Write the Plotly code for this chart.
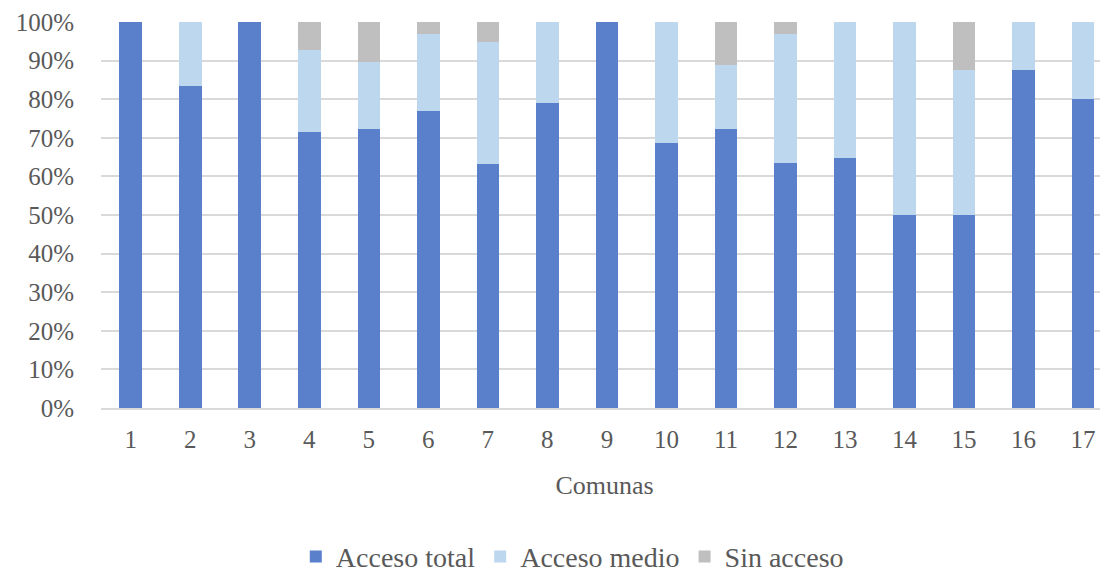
import plotly.graph_objects as go

comunas = [str(i) for i in range(1, 18)]
acceso_total = [100, 83.3, 100, 71.4, 72.4, 77.0, 63.2, 78.9, 100, 68.75, 72.2, 63.6, 64.7, 50.0, 50.0, 87.5, 80.0]
acceso_medio = [0, 16.7, 0, 21.4, 17.2, 20.0, 31.6, 21.1, 0, 31.25, 16.7, 33.3, 35.3, 50.0, 37.5, 12.5, 20.0]
sin_acceso = [0, 0, 0, 7.2, 10.4, 3.0, 5.2, 0, 0, 0, 11.1, 3.1, 0, 0, 12.5, 0, 0]

series = [
    ("Acceso total", acceso_total, "#5B80CB"),
    ("Acceso medio", acceso_medio, "#BDD7EE"),
    ("Sin acceso", sin_acceso, "#BFBFBF"),
]

fig = go.Figure()
for name, vals, col in series:
    fig.add_trace(go.Bar(x=comunas, y=vals, name=name, marker=dict(color=col, line=dict(width=0))))

font = "Liberation Serif"
fs = 25
fig.update_layout(
    barmode="stack",
    bargap=0.62,
    width=1100, height=564,
    margin=dict(l=93, r=0, t=14, b=164),
    plot_bgcolor="white", paper_bgcolor="white",
    font=dict(family=font, color="#595959", size=fs),
    legend=dict(orientation="h", xref="container", yref="container",
                x=0.513, xanchor="center", y=0.027, yanchor="middle",
                font=dict(size=28, color="#595959"), traceorder="normal"),
    xaxis=dict(type="category", range=[-0.5, 16.42], showgrid=False, automargin=False,
               showline=True, linecolor="#D9D9D9", linewidth=1.5,
               ticks="", tickfont=dict(size=fs, color="#595959"), ticklabelstandoff=8,
               title=dict(text="Comunas", font=dict(size=26, color="#595959"), standoff=24)),
    yaxis=dict(range=[0, 100], dtick=10, ticksuffix="%", showgrid=True, automargin=False,
               gridcolor="#D9D9D9", gridwidth=1.5, zeroline=False,
               tickfont=dict(size=fs, color="#595959"), ticklabelstandoff=26),
)

fig.write_html("out.html")
